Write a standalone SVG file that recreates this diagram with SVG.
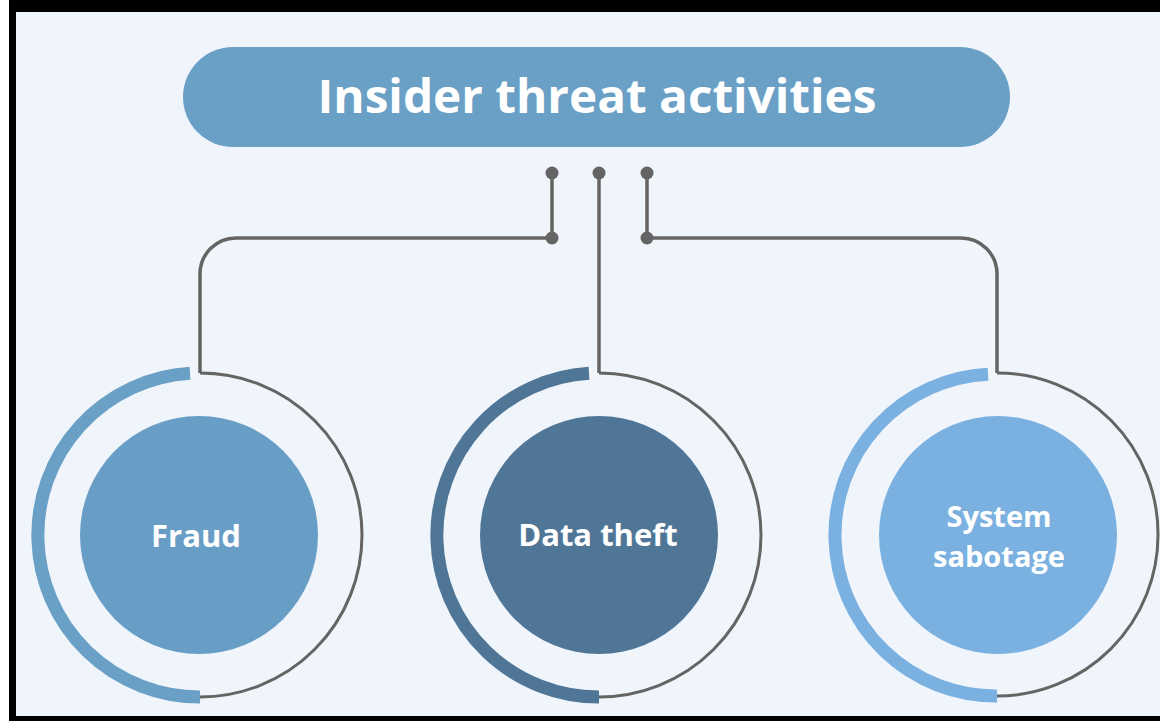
<svg xmlns="http://www.w3.org/2000/svg" width="1160" height="721" viewBox="0 0 1160 721">
  <style>
    .lbl { font-family: "Open Sans", "Liberation Sans", sans-serif; font-weight: bold; fill: #ffffff; text-anchor: middle; }
    .conn { fill: none; stroke: #646464; stroke-width: 3.5; }
    .thin { fill: none; stroke: #646464; stroke-width: 3; }
    .dot { fill: #646464; }
  </style>
  <rect x="0" y="0" width="1160" height="721" fill="#ffffff"/>
  <rect x="9" y="0" width="1151" height="721" fill="#000000"/>
  <rect x="16" y="12" width="1144" height="704" fill="#f0f5fc"/>

  <g id="title">
    <rect x="183" y="47" width="827" height="100" rx="50" ry="50" fill="#6a9fc6"/>
    <text class="lbl" x="597" y="113" font-size="46" textLength="559" lengthAdjust="spacingAndGlyphs">Insider threat activities</text>
  </g>

  <g id="connectors">
    <path class="conn" d="M552,173 V238 H236 A36,36 0 0 0 200,274 V373"/>
    <path class="conn" d="M599,173 V373"/>
    <path class="conn" d="M647,173 V238 H961 A36,36 0 0 1 997,274 V373"/>
    <circle class="dot" cx="552" cy="173" r="6.5"/>
    <circle class="dot" cx="599" cy="173" r="6.5"/>
    <circle class="dot" cx="647" cy="173" r="6.5"/>
    <circle class="dot" cx="552" cy="238" r="6.5"/>
    <circle class="dot" cx="647" cy="238" r="6.5"/>
  </g>

  <g id="fraud">
    <path class="thin" d="M200,373 A162,162 0 0 1 362,535 A162,162 0 0 1 200,697"/>
    <path d="M190,373.3 A162,162 0 0 0 200,697" fill="none" stroke="#6a9fc6" stroke-width="13"/>
    <circle cx="199" cy="535" r="119" fill="#689dc6"/>
    <text class="lbl" x="196" y="547" font-size="31">Fraud</text>
  </g>

  <g id="data-theft">
    <path class="thin" d="M599,373 A162,162 0 0 1 761,535 A162,162 0 0 1 599,697"/>
    <path d="M589,373.3 A162,162 0 0 0 599,697" fill="none" stroke="#4f7697" stroke-width="13"/>
    <circle cx="599" cy="535" r="119" fill="#4f7697"/>
    <text class="lbl" x="598" y="546" font-size="31">Data theft</text>
  </g>

  <g id="system-sabotage">
    <path class="thin" d="M997,373 A161,161 0 0 1 1158,535 A161,161 0 0 1 997,696"/>
    <path d="M988,374.2 A161,161 0 0 0 997,696" fill="none" stroke="#7bb1e0" stroke-width="13"/>
    <circle cx="998" cy="535" r="119" fill="#7bb1e0"/>
    <text class="lbl" x="999" y="527" font-size="29">System</text>
    <text class="lbl" x="999" y="567" font-size="29">sabotage</text>
  </g>
</svg>
